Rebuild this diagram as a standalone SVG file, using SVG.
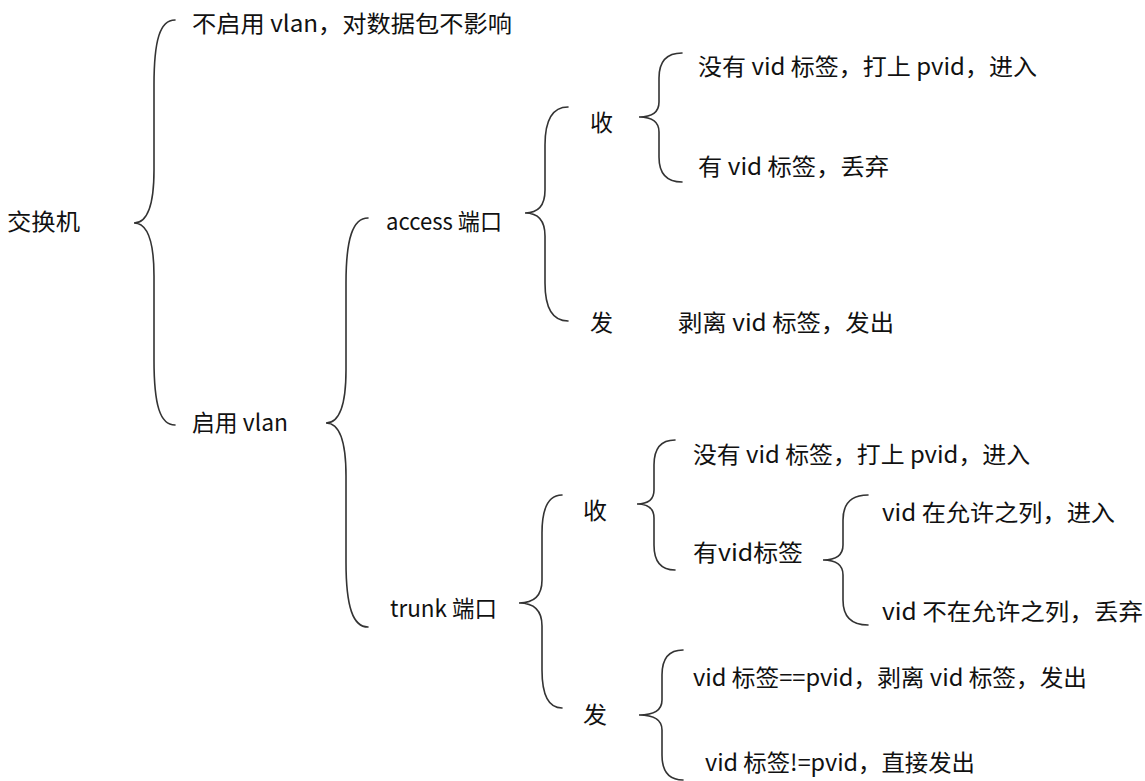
<svg xmlns="http://www.w3.org/2000/svg" width="1145" height="781" viewBox="0 0 1145 781">
<style>
text{font-family:"Noto Sans CJK SC","Noto Sans",sans-serif;font-size:23px;fill:#111}
.b{fill:none;stroke:#333;stroke-width:1.6;stroke-linecap:round}
</style>
<rect width="1145" height="781" fill="#fff"/>
<g id="connectors">
<path class="b" d="M175 20 C160 20 154 40 154 85 L154 170 C154 205 148 223 134 223 C148 223 154 241 154 276 L154 360 C154 405 160 425 175 425"/>
<path class="b" d="M368 218 C353 218 346 238 346 283 L346 370 C346 405 340 423 326 423 C340 423 346 441 346 476 L346 562 C346 607 353 627 368 627"/>
<path class="b" d="M568 107 C552 107 545 120 545 145 L545 190 C545 205 538 213 525 213 C538 213 545 221 545 236 L545 283 C545 308 552 321 568 321"/>
<path class="b" d="M682 53 C666 53 659 62 659 78 L659 102 C659 112 652 117 639 117 C652 117 659 122 659 132 L659 157 C659 173 666 182 682 182"/>
<path class="b" d="M562 495 C548 495 542 508 542 533 L542 580 C542 595 535 603 519 603 C535 603 542 611 542 626 L542 670 C542 695 548 708 562 708"/>
<path class="b" d="M675 440 C660 440 654 449 654 465 L654 490 C654 499 649 504 637 504 C649 504 654 509 654 518 L654 545 C654 561 660 570 675 570"/>
<path class="b" d="M868 495 C851 495 843 504 843 520 L843 545 C843 555 836 560 823 560 C836 560 843 565 843 575 L843 600 C843 616 851 625 868 625"/>
<path class="b" d="M683 650 C668 650 662 659 662 675 L662 700 C662 710 655 715 639 715 C655 715 662 720 662 730 L662 755 C662 771 668 780 683 780"/>
</g>
<g id="switch"><text x="7" y="230" textLength="73" lengthAdjust="spacingAndGlyphs">交换机</text></g>
<g id="no-vlan"><text x="192" y="32" textLength="320" lengthAdjust="spacingAndGlyphs">不启用 vlan，对数据包不影响</text></g>
<g id="vlan"><text x="192" y="431" textLength="96" lengthAdjust="spacingAndGlyphs">启用 vlan</text></g>
<g id="access"><text x="386" y="230" textLength="116" lengthAdjust="spacingAndGlyphs">access 端口</text></g>
<g id="trunk"><text x="390" y="617" textLength="107" lengthAdjust="spacingAndGlyphs">trunk 端口</text></g>
<g id="access-recv"><text x="590" y="131" textLength="23" lengthAdjust="spacingAndGlyphs">收</text></g>
<g id="access-send"><text x="590" y="331" textLength="23" lengthAdjust="spacingAndGlyphs">发</text></g>
<g id="access-untagged"><text x="698" y="75" textLength="339" lengthAdjust="spacingAndGlyphs">没有 vid 标签，打上 pvid，进入</text></g>
<g id="access-tagged"><text x="698" y="175" textLength="191" lengthAdjust="spacingAndGlyphs">有 vid 标签，丢弃</text></g>
<g id="access-strip"><text x="678" y="331" textLength="216" lengthAdjust="spacingAndGlyphs">剥离 vid 标签，发出</text></g>
<g id="trunk-recv"><text x="583" y="519" textLength="24" lengthAdjust="spacingAndGlyphs">收</text></g>
<g id="trunk-send"><text x="583" y="723" textLength="24" lengthAdjust="spacingAndGlyphs">发</text></g>
<g id="trunk-untagged"><text x="693" y="463" textLength="337" lengthAdjust="spacingAndGlyphs">没有 vid 标签，打上 pvid，进入</text></g>
<g id="trunk-tagged"><text x="693" y="561" textLength="110" lengthAdjust="spacingAndGlyphs">有vid标签</text></g>
<g id="allowed"><text x="882" y="521" textLength="233" lengthAdjust="spacingAndGlyphs">vid 在允许之列，进入</text></g>
<g id="not-allowed"><text x="882" y="620" textLength="261" lengthAdjust="spacingAndGlyphs">vid 不在允许之列，丢弃</text></g>
<g id="eq-pvid"><text x="693" y="686" textLength="394" lengthAdjust="spacingAndGlyphs">vid 标签==pvid，剥离 vid 标签，发出</text></g>
<g id="neq-pvid"><text x="705" y="771" textLength="270" lengthAdjust="spacingAndGlyphs">vid 标签!=pvid，直接发出</text></g>
</svg>
